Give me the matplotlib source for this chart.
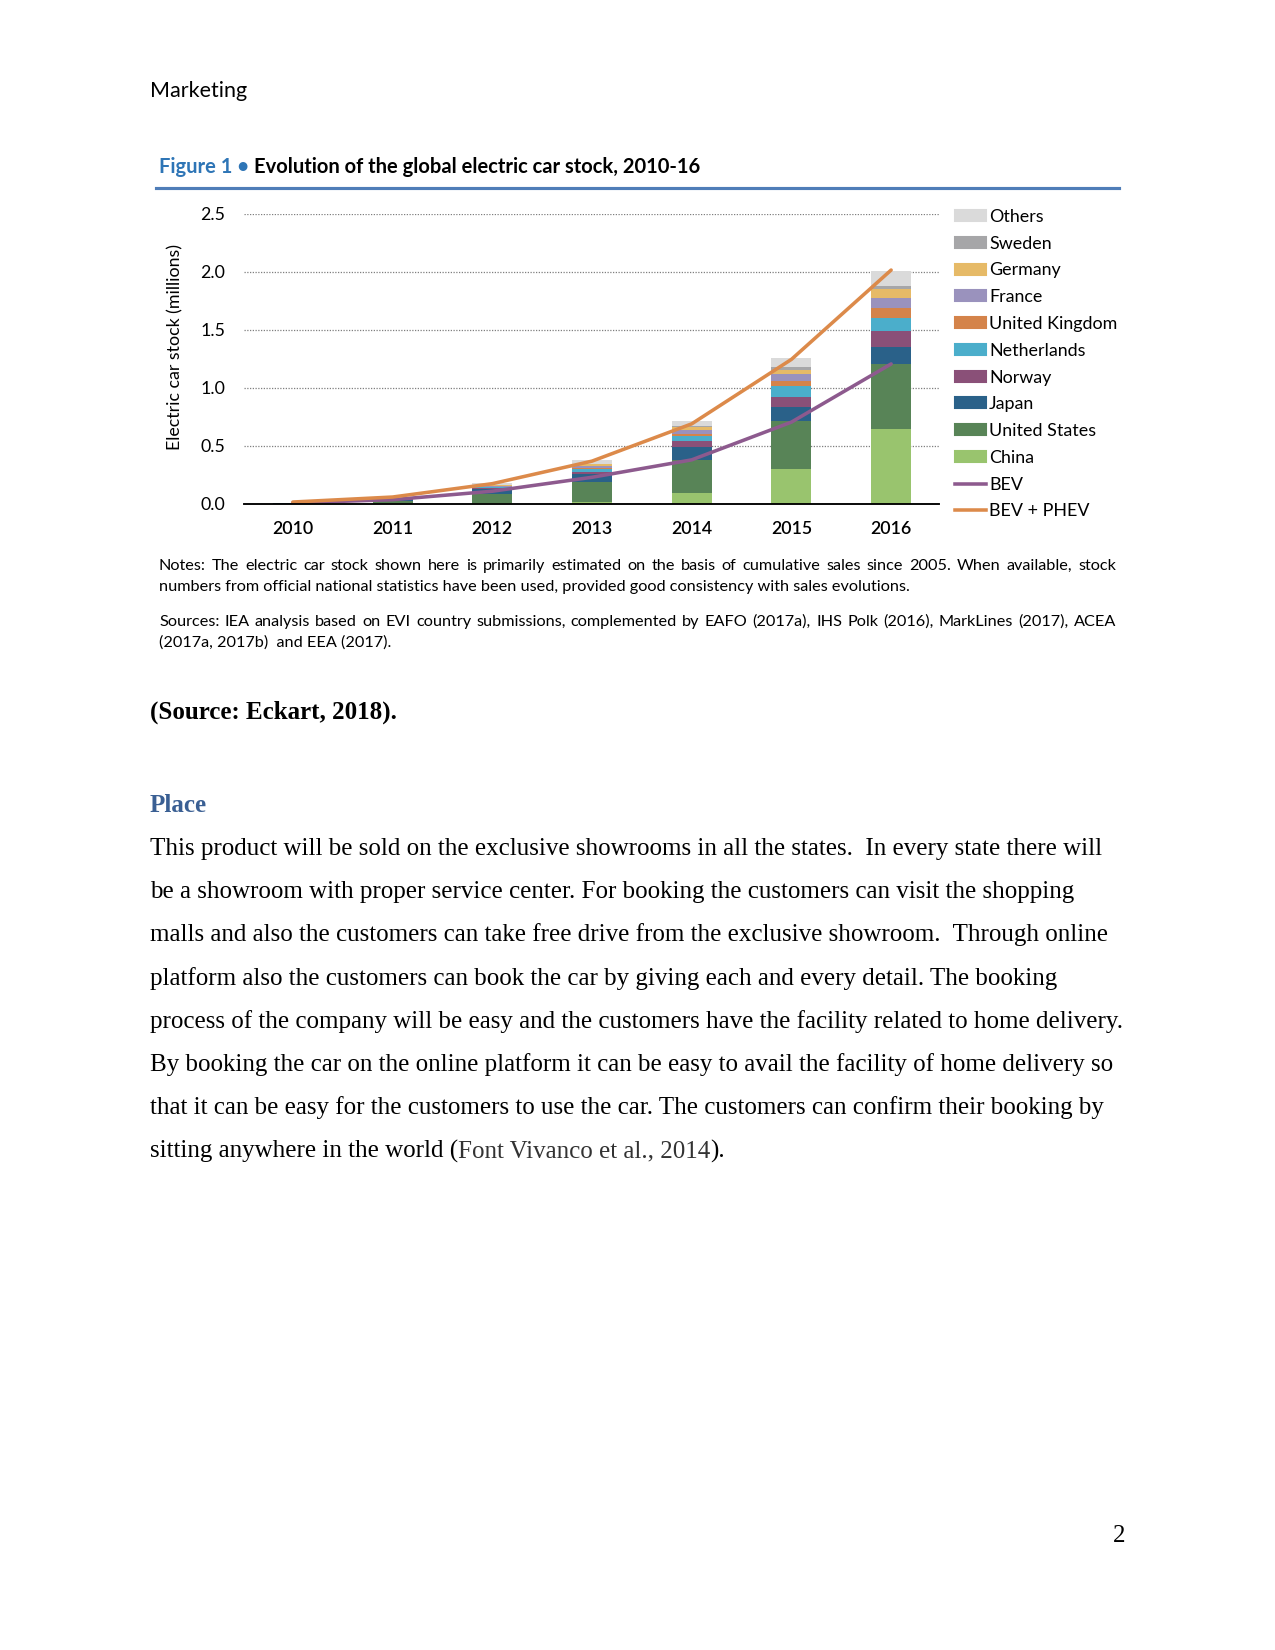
import matplotlib
matplotlib.use("Agg")
import matplotlib.pyplot as plt
from matplotlib.patches import Patch
from matplotlib.lines import Line2D
from matplotlib.ticker import FormatStrFormatter
import numpy as np

W, H = 1275, 1650

# electric car stock, millions
years = ["2010", "2011", "2012", "2013", "2014", "2015", "2016"]
china = [0.001, 0.005, 0.010, 0.015, 0.098, 0.303, 0.642]
usa = [0.002, 0.018, 0.076, 0.172, 0.285, 0.408, 0.564]
japan = [0.003, 0.012, 0.041, 0.068, 0.107, 0.126, 0.147]
norway = [0.002, 0.004, 0.010, 0.021, 0.049, 0.083, 0.135]
netherlands = [0.000, 0.001, 0.007, 0.029, 0.043, 0.093, 0.112]
uk = [0.000, 0.001, 0.004, 0.007, 0.018, 0.042, 0.089]
france = [0.000, 0.002, 0.009, 0.018, 0.034, 0.062, 0.087]
germany = [0.000, 0.001, 0.006, 0.013, 0.029, 0.039, 0.071]
sweden = [0.000, 0.000, 0.001, 0.004, 0.008, 0.020, 0.032]
others = [0.002, 0.003, 0.014, 0.035, 0.044, 0.080, 0.127]
bev = [0.010, 0.037, 0.110, 0.230, 0.380, 0.705, 1.206]
bev_phev = [0.017, 0.060, 0.175, 0.369, 0.690, 1.245, 2.014]

series = [
    ("China", china, "#99C46E"),
    ("United States", usa, "#588457"),
    ("Japan", japan, "#2A6189"),
    ("Norway", norway, "#8A5078"),
    ("Netherlands", netherlands, "#4BAECB"),
    ("United Kingdom", uk, "#D4834A"),
    ("France", france, "#9A92BD"),
    ("Germany", germany, "#E6BA67"),
    ("Sweden", sweden, "#A6A6A8"),
    ("Others", others, "#DADADA"),
]
bev_color = "#8D5A8E"
total_color = "#DC8A4A"

notes = ["Notes: The electric car stock shown here is primarily estimated on the basis of cumulative sales since 2005. When available, stock",
         "numbers from official national statistics have been used, provided good consistency with sales evolutions."]
sources = ["Sources: IEA analysis based on EVI country submissions, complemented by EAFO (2017a), IHS Polk (2016), MarkLines (2017), ACEA",
           "(2017a, 2017b)  and EEA (2017)."]
body = [
    "This product will be sold on the exclusive showrooms in all the states.  In every state there will",
    "be a showroom with proper service center. For booking the customers can visit the shopping",
    "malls and also the customers can take free drive from the exclusive showroom.  Through online",
    "platform also the customers can book the car by giving each and every detail. The booking",
    "process of the company will be easy and the customers have the facility related to home delivery.",
    "By booking the car on the online platform it can be easy to avail the facility of home delivery so",
    "that it can be easy for the customers to use the car. The customers can confirm their booking by",
]
last_line = ["sitting anywhere in the world (", "Font Vivanco et al., 2014", ")."]

sans = "Lato"
serif = "Liberation Serif"


def fx(px):
    return px / W


def fy(py):
    return 1 - py / H


fig = plt.figure(figsize=(W / 150, H / 150), dpi=150)
r = fig.canvas.get_renderer()

# page header
fig.text(fx(150), fy(97), "Marketing", family=sans, fontsize=10.3, va="baseline")

# figure title
t1 = fig.text(fx(159), fy(173), "Figure 1 \u2022 ", family=sans, weight="bold",
              fontsize=9.7, color="#2E75B6", va="baseline")
w1 = t1.get_window_extent(r).width
fig.text(fx(159 + w1), fy(173), "Evolution of the global electric car stock, 2010-16",
         family=sans, weight="bold", fontsize=9.7, color="black", va="baseline")
fig.add_artist(Line2D([fx(156), fx(1119)], [fy(188), fy(188)], color="#4F7DB8", lw=1.5))

# chart
ax = fig.add_axes([fx(244), fy(504), 695 / W, 290.4 / H])
x = np.arange(len(years))
bottom = np.zeros(len(years))
for name, vals, col in series:
    ax.bar(x, vals, 0.4, bottom=bottom, color=col, linewidth=0, label=name, zorder=2)
    bottom += np.array(vals)
ax.plot(x, bev, color=bev_color, lw=1.7, zorder=3, solid_capstyle="round")
ax.plot(x, bev_phev, color=total_color, lw=1.7, zorder=3, solid_capstyle="round")

ax.set_xlim(-0.49, 6.48)
ax.set_ylim(0, 2.5)
ax.set_yticks(np.arange(0, 2.51, 0.5))
ax.yaxis.set_major_formatter(FormatStrFormatter("%.1f"))
ax.set_xticks(x)
ax.set_xticklabels(years)
ax.yaxis.grid(True, linestyle=(0, (1, 1.2)), color="#7F7F7F", lw=0.6)
ax.set_axisbelow(True)
for s in ["left", "right", "top"]:
    ax.spines[s].set_visible(False)
ax.spines["bottom"].set_color("black")
ax.spines["bottom"].set_linewidth(0.9)
ax.spines["bottom"].set_zorder(4)
ax.tick_params(axis="y", length=0, pad=9, labelsize=8.5)
ax.tick_params(axis="x", length=0, pad=8, labelsize=8.5)
for lab in ax.get_yticklabels():
    lab.set_family(sans)
for lab in ax.get_xticklabels():
    lab.set_family(sans)
    lab.set_weight("semibold")
ax.set_ylabel("Electric car stock (millions)", family=sans, fontsize=8.5, va="center")
ax.yaxis.set_label_coords(-0.0993, 0.5406)

handles = [Patch(color=col, label=name) for name, vals, col in reversed(series)]
handles += [Line2D([], [], color=bev_color, lw=1.7, label="BEV"),
            Line2D([], [], color=total_color, lw=1.7, label="BEV + PHEV")]
ax.legend(handles=handles, loc="upper left", bbox_to_anchor=(fx(955), fy(209)),
          bbox_transform=fig.transFigure, frameon=False, borderpad=0, borderaxespad=0,
          handlelength=1.75, handleheight=0.56, handletextpad=0.15, labelspacing=0.6,
          prop={"family": sans, "size": 8.6})


def justify(text, x0, x1, y, **kw):
    words = text.split()
    objs = [fig.text(0, fy(y), w, va="baseline", **kw) for w in words]
    widths = [o.get_window_extent(r).width for o in objs]
    gap = (x1 - x0 - sum(widths)) / (len(words) - 1)
    pos = x0
    for o, w in zip(objs, widths):
        o.set_x(fx(pos))
        pos += w + gap


note_kw = dict(family=sans, fontsize=7.8)
justify(notes[0], 159, 1116, 570, **note_kw)
fig.text(fx(159), fy(591), notes[1], va="baseline", **note_kw)
justify(sources[0], 159, 1116, 626, **note_kw)
fig.text(fx(159), fy(647), sources[1], va="baseline", **note_kw)

# document text
fig.text(fx(150), fy(719), "(Source: Eckart, 2018).", family=serif, weight="bold",
         fontsize=12, va="baseline")
fig.text(fx(150), fy(812), "Place", family=serif, weight="bold", fontsize=12,
         color="#3A5F93", va="baseline")
for i, line in enumerate(body):
    fig.text(fx(150), fy(855 + i * 43.2), line, family=serif, fontsize=12, va="baseline")
pos = 150
for part, col in zip(last_line, ["black", "#333333", "black"]):
    t = fig.text(fx(pos), fy(855 + 7 * 43.2), part, family=serif, fontsize=12,
                 color=col, va="baseline")
    pos += t.get_window_extent(r).width
fig.text(fx(1125), fy(1542), "2", family=serif, fontsize=12, ha="right", va="baseline")

fig.savefig("out.png", dpi=150)
